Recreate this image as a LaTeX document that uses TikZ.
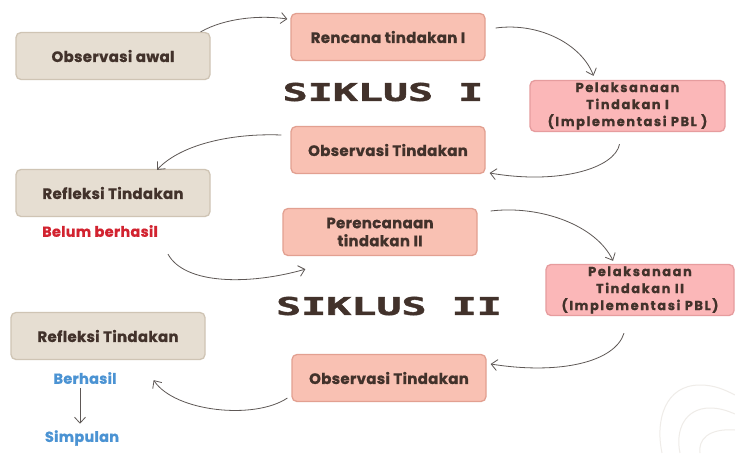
\documentclass[tikz,border=0pt]{standalone}
\usepackage{fontspec}
\usepackage{graphicx}
\usetikzlibrary{arrows.meta,calc}
\newfontfamily\boxfont{Poppins}[LetterSpace=2, BoldFeatures={FakeBold=0.8}]
\newfontfamily\wideboxfont{Poppins}[LetterSpace=12, BoldFeatures={FakeBold=0.8}]
\newfontfamily\sikfont{DejaVu Sans Mono}[BoldFeatures={FakeBold=1.5}]
\definecolor{beigefill}{HTML}{E6DED2}
\definecolor{beigedraw}{HTML}{CFC4B4}
\definecolor{salmonfill}{HTML}{F9C1B3}
\definecolor{salmondraw}{HTML}{E2A091}
\definecolor{pinkfill}{HTML}{FBB7B8}
\definecolor{pinkdraw}{HTML}{E69C9E}
\definecolor{txt}{HTML}{42322B}
\definecolor{arrowc}{HTML}{5E5856}
\definecolor{redt}{HTML}{D22330}
\definecolor{bluet}{HTML}{4B93D3}
\definecolor{deco}{HTML}{EFECE8}
\tikzset{
  boxbase/.style={rounded corners=5pt, line width=1.3pt, minimum width=194pt, minimum height=47pt, align=center, text=txt, font=\boxfont\bfseries\fontsize{15}{18}\selectfont, inner sep=2pt},
  beigebox/.style={boxbase, fill=beigefill, draw=beigedraw},
  salmonbox/.style={boxbase, fill=salmonfill, draw=salmondraw},
  pinkbox/.style={boxbase, fill=pinkfill, draw=pinkdraw, font=\wideboxfont\bfseries\fontsize{13}{17}\selectfont},
  arr/.style={draw=arrowc, line width=0.8pt, -{Straight Barb[length=6pt,width=11pt]}},
  siklus/.style={text=txt, inner sep=0pt, font=\sikfont\bfseries\fontsize{24.5}{26}\selectfont},
  lab/.style={font=\boxfont\bfseries\fontsize{14.5}{16}\selectfont}
}
\newcommand{\widesik}[1]{\scalebox{1.7}[1]{#1}}
\begin{document}
\begin{tikzpicture}[x=1pt,y=-1pt]
\useasboundingbox (0,0) rectangle (735,453);
\fill[white] (0,0) rectangle (735,453);
% decorative contours
\draw[deco, line width=1pt] (662,453) .. controls (655,420) and (665,385) .. (700,385) .. controls (715,385) and (725,390) .. (735,395);
\draw[deco, line width=1pt] (680,453) .. controls (675,430) and (685,408) .. (710,408) .. controls (720,408) and (728,411) .. (735,414);
\draw[deco, line width=1pt] (700,453) .. controls (698,440) and (708,428) .. (735,430);

\node[beigebox] (obsawal) at (113,56) {Observasi awal};
\node[salmonbox] (rencana) at (388,37) {Rencana tindakan I};
\node[siklus] (sik1) at (383,92) {\widesik{SIKLUS I}};
\node[pinkbox, minimum width=195pt, minimum height=48pt] (pel1) at (627.5,106) {Pelaksanaan\\Tindakan I\\(Implementasi PBL )};
\node[salmonbox] (obs1) at (388,150) {Observasi Tindakan};
\node[beigebox] (ref1) at (113,193) {Refleksi Tindakan};
\node[lab, text=redt] (belum) at (100,231) {Belum berhasil};
\node[salmonbox] (peren) at (380,232) {Perencanaan\\tindakan II};
\node[pinkbox, minimum width=188pt, minimum height=49pt] (pel2) at (640,290) {Pelaksanaan\\Tindakan II\\(Implementasi PBL)};
\node[siklus] (sik2) at (389,306) {\widesik{SIKLUS II}};
\node[beigebox] (ref2) at (108,336) {Refleksi Tindakan};
\node[salmonbox] (obs2) at (389,378) {Observasi Tindakan};
\node[lab, text=bluet] (berhasil) at (85,378) {Berhasil};
\node[lab, text=bluet] (simpulan) at (82,438) {Simpulan};

\draw[arr] ($(obsawal.north east)+(-10,0)$) .. controls (225,18) and (260,15) .. ($(rencana.west)+(-3,-18)$);
\draw[arr] ($(rencana.east)+(10,-9)$) .. controls (540,22) and (582,45) .. ($(pel1.north)+(-34,-4)$);
\draw[arr] ($(pel1.south)+(-8,12)$) .. controls (615,168) and (560,185) .. ($(obs1.east)+(4,23)$);
\draw[arr] ($(obs1.west)+(-9,-15)$) .. controls (230,133) and (180,145) .. ($(ref1.north)+(44,1)$);
\draw[arr] ($(ref1.south)+(55,37)$) .. controls (185,285) and (250,285) .. ($(peren.south west)+(23,13)$);
\draw[arr] ($(peren.east)+(13,-21)$) .. controls (540,205) and (596,225) .. ($(pel2.north)+(-27,-3)$);
\draw[arr] ($(pel2.south)+(-16,17)$) .. controls (615,362) and (560,375) .. ($(obs2.east)+(4,-14)$);
\draw[arr] ($(obs2.west)+(-4,20)$) .. controls (255,420) and (175,412) .. ($(ref2.south east)+(-52,20)$);
\draw[arr] ($(berhasil.south)+(-5,1)$) -- ($(simpulan.north)+(-2,-3)$);
\end{tikzpicture}
\end{document}
